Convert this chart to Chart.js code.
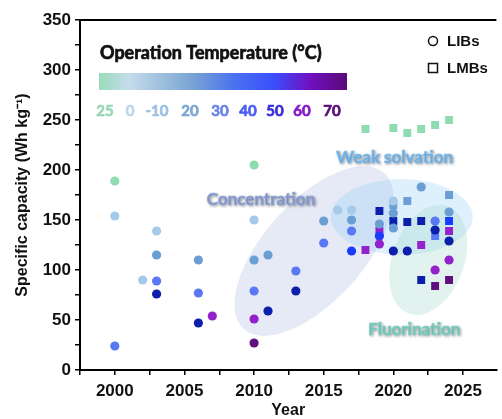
<!DOCTYPE html>
<html>
<head>
<meta charset="utf-8">
<script src="https://cdn.jsdelivr.net/npm/chart.js@4.4.1/dist/chart.umd.min.js"></script>
<style>
  html, body { margin: 0; padding: 0; background: #fff; }
</style>
</head>
<body>
<canvas id="capChart" width="502" height="419"></canvas>
<script>
// LIBs (circles)
const libYears    = [2000, 2000, 2000, 2002, 2003, 2003, 2003, 2003, 2006, 2006, 2006, 2007,
                     2010, 2010, 2010, 2010, 2010, 2010, 2011, 2011, 2013, 2013, 2015, 2015,
                     2016, 2017, 2017, 2017, 2017, 2019, 2019, 2019, 2020, 2020, 2020, 2020,
                     2021, 2022, 2023, 2023, 2023, 2024, 2024, 2024];
const libCapacity = [189, 154, 24, 90, 139, 115, 89, 76, 110, 77, 47, 54,
                     205, 150, 110, 79, 51, 27, 115, 59, 99, 79, 149, 127,
                     160, 160, 150, 139, 119, 146, 134, 126, 169, 157, 142, 119,
                     119, 183, 149, 140, 100, 158, 129, 110];
const libTemps    = [25, 0, 30, 0, 0, 20, 30, 50, 20, 30, 50, 60,
                     25, 0, 20, 30, 60, 70, 20, 50, 30, 50, 20, 30,
                     0, 0, 20, 30, 40, 20, 40, 60, 0, 20, 20, 50,
                     50, 20, 30, 50, 60, 20, 50, 60];

// LMBs (squares)
const lmbYears    = [2018, 2020, 2021, 2022, 2023, 2024,
                     2018, 2019, 2019, 2020, 2020, 2021, 2021, 2022, 2022, 2022,
                     2023, 2023, 2024, 2024, 2024, 2024];
const lmbCapacity = [241, 242, 237, 241, 245, 250,
                     120, 159, 139, 165, 149, 169, 148, 149, 125, 90,
                     134, 84, 175, 149, 139, 90];
const lmbTemps    = [25, 25, 25, 25, 25, 25,
                     60, 50, 60, 20, 50, 20, 50, 50, 60, 50,
                     30, 70, 20, 40, 60, 70];

// colour scale
const tempLabels = ['25', '0', '-10', '20', '30', '40', '50', '60', '70'];
const tempLabelColors = ['#98d8b4', '#bcd6ec', '#9cc0e2', '#7ea8d4', '#6a86e8', '#4a5ef5', '#3a2fd8', '#8a18c8', '#5a0c78'];
const pointColors = {
  '25': '#8edcb0', '0': '#a6cbea', '-10': '#8fbbe3', '20': '#6b9ed3', '30': '#5a78f3',
  '40': '#1a3cff', '50': '#0b1faa', '60': '#9422cc', '70': '#60107e'
};

// shaded groups
const groups = [
  { name: 'Concentration',  year: 2014.3, cap: 119, rx: 105, ry: 50, rot: -48, fill: 'rgba(160,172,225,0.26)',
    labelYear: 2010.5, labelCap: 170, color: '#90a6d8' },
  { name: 'Weak solvation', year: 2020.6, cap: 153, rx: 71, ry: 38, rot: 0, fill: 'rgba(135,200,245,0.28)',
    labelYear: 2020.1, labelCap: 212, color: '#7dbdf0' },
  { name: 'Fluorination',   year: 2022.5, cap: 110, rx: 36, ry: 57, rot: 20, fill: 'rgba(160,212,198,0.30)',
    labelYear: 2021.5, labelCap: 40, color: '#80d4c6' }
];

function toPoints(xs, ys) {
  return xs.map((x, i) => ({ x: x, y: ys[i] }));
}

function heavyText(ctx, text, x, y, color) {
  ctx.fillStyle = color;
  ctx.strokeStyle = color;
  ctx.lineWidth = 0.7;
  ctx.fillText(text, x, y);
  ctx.strokeText(text, x, y);
}

const extras = {
  id: 'extras',
  beforeDatasetsDraw(chart) {
    const { ctx, scales: { x, y } } = chart;
    ctx.save();
    groups.forEach(g => {
      ctx.beginPath();
      ctx.ellipse(x.getPixelForValue(g.year), y.getPixelForValue(g.cap), g.rx, g.ry, g.rot * Math.PI / 180, 0, Math.PI * 2);
      ctx.fillStyle = g.fill;
      ctx.fill();
    });
    ctx.restore();
  },
  afterDraw(chart) {
    const { ctx, chartArea: area, scales: { x, y } } = chart;
    ctx.save();

    // top frame line
    ctx.strokeStyle = '#000';
    ctx.lineWidth = 2;
    ctx.beginPath();
    ctx.moveTo(area.left, area.top);
    ctx.lineTo(area.right, area.top);
    ctx.stroke();

    // group labels
    ctx.textAlign = 'center';
    ctx.textBaseline = 'middle';
    ctx.font = 'bold 17px Lato';
    groups.forEach(g => {
      ctx.shadowColor = 'rgba(0,0,0,0.35)';
      ctx.shadowBlur = 3;
      ctx.shadowOffsetX = 1;
      ctx.shadowOffsetY = 1;
      heavyText(ctx, g.name, x.getPixelForValue(g.labelYear), y.getPixelForValue(g.labelCap), g.color);
    });
    ctx.shadowColor = 'transparent';

    // colour bar
    const barL = area.left + 19, barR = area.left + 267, barT = area.top + 53, barH = 17;
    const grad = ctx.createLinearGradient(barL, 0, barR, 0);
    grad.addColorStop(0, '#98dcb8');
    grad.addColorStop(0.12, '#c6dcec');
    grad.addColorStop(0.37, '#7aa6d2');
    grad.addColorStop(0.55, '#4a70f0');
    grad.addColorStop(0.70, '#3a50ff');
    grad.addColorStop(0.85, '#7010c0');
    grad.addColorStop(1, '#5a0a78');
    ctx.fillStyle = grad;
    ctx.fillRect(barL, barT, barR - barL, barH);

    ctx.font = 'bold 18px Lato';
    ctx.textAlign = 'left';
    heavyText(ctx, 'Operation Temperature (°C)', barL + 1, area.top + 33, '#111');

    const labelX = [105, 130, 157, 190, 220, 248, 275, 302, 332];
    ctx.font = 'bold 15px Lato';
    ctx.textAlign = 'center';
    tempLabels.forEach((t, i) => {
      heavyText(ctx, t, labelX[i], area.top + 91, tempLabelColors[i]);
    });

    // marker legend
    ctx.strokeStyle = '#111';
    ctx.lineWidth = 1.5;
    ctx.beginPath();
    ctx.arc(433, 41, 4.5, 0, Math.PI * 2);
    ctx.stroke();
    ctx.strokeRect(428.5, 63.5, 9, 9);
    ctx.font = 'bold 15px "Liberation Sans"';
    ctx.textAlign = 'left';
    ctx.fillStyle = '#111';
    ctx.fillText('LIBs', 447, 42);
    ctx.fillText('LMBs', 447, 69);
    ctx.restore();
  }
};

const ctx = document.getElementById('capChart');

const tickFont = { family: '"Liberation Sans", Arial, sans-serif', size: 17, weight: 'bold' };

new Chart(ctx, {
  type: 'scatter',
  data: {
    datasets: [
      {
        label: 'LIBs',
        data: toPoints(libYears, libCapacity),
        pointStyle: 'circle',
        pointRadius: 4.6,
        pointBackgroundColor: libTemps.map(t => pointColors[String(t)]),
        pointBorderWidth: 0
      },
      {
        label: 'LMBs',
        data: toPoints(lmbYears, lmbCapacity),
        pointStyle: 'rect',
        pointRadius: 5.6,
        pointBackgroundColor: lmbTemps.map(t => pointColors[String(t)]),
        pointBorderWidth: 0
      }
    ]
  },
  options: {
    responsive: false,
    animation: false,
    devicePixelRatio: 1,
    layout: { padding: { top: 20, right: 0, left: 0, bottom: 0 } },
    plugins: {
      legend: { display: false },
      tooltip: { enabled: false }
    },
    scales: {
      x: {
        type: 'linear',
        min: 1997.5,
        max: 2027.4,
        afterFit: s => { s.height = 49; },
        border: { color: '#000', width: 2 },
        grid: { drawOnChartArea: false, tickLength: 5, color: '#000', lineWidth: 1.5 },
        ticks: {
          stepSize: 2.5,
          includeBounds: false,
          autoSkip: false,
          maxRotation: 0,
          padding: 6,
          color: '#111',
          font: tickFont,
          callback: v => (v % 5 === 0 ? String(v) : '')
        },
        title: {
          display: true,
          text: 'Year',
          color: '#111',
          font: { family: '"Liberation Sans", Arial, sans-serif', size: 16, weight: 'bold', lineHeight: 1 },
          padding: { top: 0, bottom: 0 }
        }
      },
      y: {
        min: 0,
        max: 350,
        afterFit: s => { s.width = 80; },
        border: { color: '#000', width: 2 },
        grid: { drawOnChartArea: false, tickLength: 5, color: '#000', lineWidth: 1.5 },
        ticks: {
          stepSize: 25,
          autoSkip: false,
          padding: 4,
          color: '#111',
          font: tickFont,
          callback: v => (v % 50 === 0 ? String(v) : '')
        },
        title: {
          display: true,
          text: 'Specific capacity (Wh kg⁻¹)',
          color: '#111',
          font: { family: '"Liberation Sans", Arial, sans-serif', size: 16, weight: 'bold', lineHeight: 1.2 },
          padding: { top: 13, bottom: 0 }
        }
      }
    }
  },
  plugins: [extras]
});
</script>
</body>
</html>
